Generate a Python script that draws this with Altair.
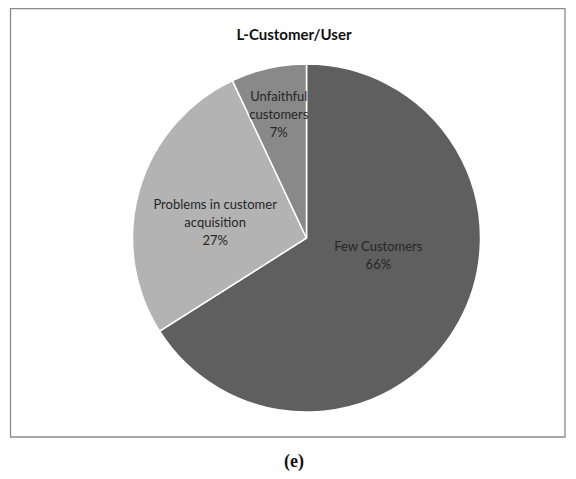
import altair as alt
import pandas as pd

# ---- data ----
categories = ["Few Customers", "Problems in customer acquisition", "Unfaithful customers"]
shares = [66, 27, 7]
slice_order = [0, 1, 2]
labels = ["Few Customers\n66%", "Problems in customer\nacquisition\n27%", "Unfaithful\ncustomers\n7%"]
title_text = "L-Customer/User"
caption_text = "(e)"

# ---- styles ----
colors = ["#5f5f5f", "#b3b3b3", "#898989"]
CX, CY, R = 298.5, 230, 174
label_style = [  # radius, dx, dy for each label
    (74, 7, -27),
    (92, -3, -7),
    (127, 0, -17),
]
FONT = "Lato"
TXT = "#262626"

df = pd.DataFrame({"category": categories, "share": shares, "order": slice_order, "label": labels})
base = alt.Chart(df)

theta_scale = alt.Scale(domain=[0, 100])

pie = base.mark_arc(outerRadius=R, stroke="white", strokeWidth=1.5).encode(
    theta=alt.Theta("share:Q", stack=True, scale=theta_scale),
    order=alt.Order("order:Q"),
    color=alt.Color("category:N", scale=alt.Scale(domain=categories, range=colors), legend=None),
    x=alt.value(CX),
    y=alt.value(CY),
)

layers = [pie]
for i, (r, dx, dy) in enumerate(label_style):
    lab = (
        base.transform_window(cum="sum(share)", sort=[alt.SortField("order")])
        .transform_calculate(mid="datum.cum - datum.share / 2")
        .transform_filter(alt.datum.order == i)
        .mark_text(radius=r, dx=dx, dy=dy, lineBreak="\n", lineHeight=18, font=FONT,
                   fontSize=13, color=TXT, align="center", baseline="middle")
        .encode(
            theta=alt.Theta("mid:Q", stack=None, scale=theta_scale),
            text="label:N",
            x=alt.value(CX),
            y=alt.value(CY),
        )
    )
    layers.append(lab)

frame = alt.Chart(pd.DataFrame({"a": [0]})).mark_rect(
    fill=None, stroke="#8a8a8a", strokeWidth=1.3
).encode(x=alt.value(2.5), x2=alt.value(557), y=alt.value(0.7), y2=alt.value(429))

title = alt.Chart(pd.DataFrame({"t": [title_text]})).mark_text(
    font=FONT, fontSize=15, fontWeight="bold", color="#111111", align="center", baseline="middle"
).encode(text="t:N", x=alt.value(286), y=alt.value(27))

caption = alt.Chart(pd.DataFrame({"t": [caption_text]})).mark_text(
    font="Liberation Serif", fontSize=18, fontWeight="bold", color="#111111", align="center", baseline="middle"
).encode(text="t:N", x=alt.value(286), y=alt.value(454))

chart = alt.layer(frame, *layers, title, caption).properties(
    width=560, height=466, padding=0, autosize=alt.AutoSizeParams(type="none"), background="white"
).configure_view(stroke=None)

chart.save("out.html", embed_options={"renderer": "svg", "actions": False})
